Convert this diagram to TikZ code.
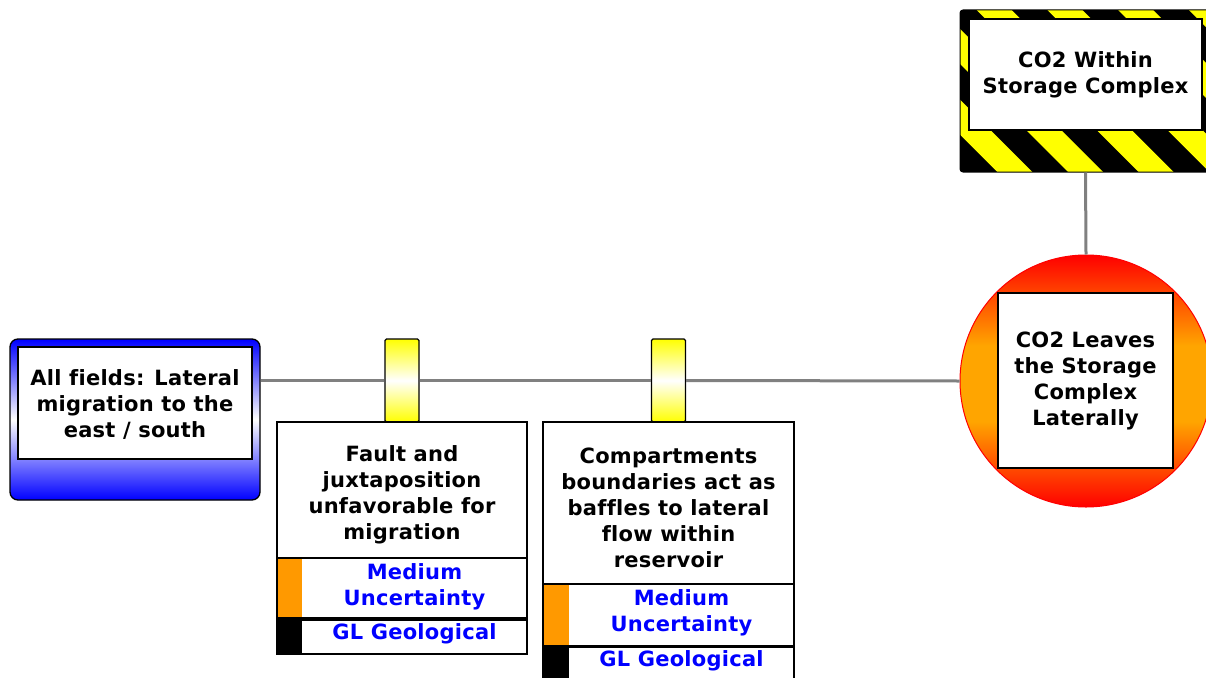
\documentclass[tikz,border=0pt]{standalone}
\usepackage{fontspec}
\setmainfont{DejaVu Sans}[LetterSpace=1.2, Ligatures=NoCommon]
\usetikzlibrary{calc}
\definecolor{hzyellow}{RGB}{255,255,0}
\definecolor{circorange}{RGB}{255,165,0}
\definecolor{circred}{RGB}{255,0,0}
\definecolor{blockorange}{RGB}{255,153,0}
\definecolor{linegray}{RGB}{128,128,128}
\definecolor{uncblue}{RGB}{0,0,255}
\pgfdeclareverticalshading{circshade}{100bp}{color(0bp)=(circred); color(25bp)=(circred); color(42bp)=(circorange); color(57bp)=(circorange); color(75bp)=(circred); color(100bp)=(circred)}
\begin{document}
\begin{tikzpicture}[x=1pt,y=-1pt,
  txt/.style={font=\bfseries\fontsize{21}{26}\selectfont, align=center, inner sep=0pt},
  utxt/.style={txt, text=uncblue},
  whitebox/.style={draw=black, line width=1.3pt, fill=white, inner sep=0pt},
  conn/.style={draw=linegray, line width=3pt},
  tabbox/.style={draw=black, line width=1.2pt, rounded corners=1.5pt, top color=hzyellow, bottom color=hzyellow, middle color=white, minimum width=34pt, minimum height=83pt, inner sep=0pt},
]
\useasboundingbox (0,0) rectangle (1206,677);

% ---------- hazard (top event) box ----------
\begin{scope}
  \clip[rounded corners=3pt] (960,10) rectangle (1211,172);
  \fill[black] (960,10) rectangle (1211,172);
  \foreach \k in {-2,...,5} {
    \pgfmathsetmacro{\c}{896+70.7*\k}
    \fill[hzyellow] (\c,0) -- (\c+35,0) -- (\c+215,180) -- (\c+180,180) -- cycle;
  }
\end{scope}
\node[draw=black, line width=1pt, rounded corners=3pt, minimum width=251pt, minimum height=162pt, inner sep=0pt] (haz) at (1085.5,91) {};
\node[whitebox, minimum width=233pt, minimum height=111pt] (hazin) at (1085.5,74.5) {};
\node[txt] (haztxt) at (1085.5,75) {CO2 Within\\Storage Complex};

% ---------- left threat box ----------
\node[draw=black, line width=1.3pt, rounded corners=8pt, minimum width=250pt, minimum height=161pt, inner sep=0pt,
      top color=uncblue, bottom color=uncblue, middle color=white] (left) at (135,419.5) {};
\node[whitebox, minimum width=234pt, minimum height=112pt] (leftin) at (135,403) {};
\node[txt] (lefttxt) at (135,404) {All fields: Lateral\\migration to the\\east / south};

% ---------- consequence circle ----------
\node[circle, draw=circred, line width=1pt, minimum size=252pt, inner sep=0pt,
      shading=circshade] (circ) at (1086,381) {};
\node[whitebox, minimum width=175pt, minimum height=175pt] (circin) at (1085.5,380.5) {};
\node[txt] (circtxt) at (1085.5,381) {CO2 Leaves\\the Storage\\Complex\\Laterally};

% ---------- barrier tabs ----------
\node[tabbox] (tab1) at (402,380.5) {};
\node[tabbox] (tab2) at (668.5,380.5) {};

% ---------- connectors ----------
\draw[conn] (left.east |- tab1.west) -- (tab1.west);
\draw[conn] (tab1.east) -- (tab2.west);
\draw[conn] (tab2.east) -- (circ.west);
\draw[conn] (haz.south) -- (circ.north);

% ---------- barrier 1 ----------
\node[whitebox, minimum width=250pt, minimum height=136pt] (b1) at (402,490) {};
\node[txt] (b1txt) at (402,495) {Fault and\\juxtaposition\\unfavorable for\\migration};
\node[whitebox, minimum width=250pt, minimum height=60pt] (b1m) at (402,588) {};
\node[fill=blockorange, minimum width=24pt, minimum height=58.7pt, inner sep=0pt] (b1mo) at (289.5,588) {};
\node[utxt] (b1mt) at (414.5,587) {Medium\\Uncertainty};
\node[whitebox, minimum width=250pt, minimum height=34pt] (b1g) at (402,637) {};
\node[fill=black, minimum width=24pt, minimum height=33pt, inner sep=0pt] (b1gb) at (289.5,637) {};
\node[utxt] (b1gt) at (414.5,634) {GL Geological};

% ---------- barrier 2 ----------
\node[whitebox, minimum width=251pt, minimum height=162pt] (b2) at (668.5,503) {};
\node[txt] (b2txt) at (668.5,508) {Compartments\\boundaries act as\\baffles to lateral\\flow within\\reservoir};
\node[whitebox, minimum width=251pt, minimum height=62pt] (b2m) at (668.5,615) {};
\node[fill=blockorange, minimum width=25pt, minimum height=60.7pt, inner sep=0pt] (b2mo) at (556,615) {};
\node[utxt] (b2mt) at (681.5,613) {Medium\\Uncertainty};
\node[whitebox, minimum width=251pt, minimum height=40pt] (b2g) at (668.5,667) {};
\node[fill=black, minimum width=25pt, minimum height=39pt, inner sep=0pt] (b2gb) at (556,667) {};
\node[utxt] (b2gt) at (681.5,661) {GL Geological};
\end{tikzpicture}
\end{document}
